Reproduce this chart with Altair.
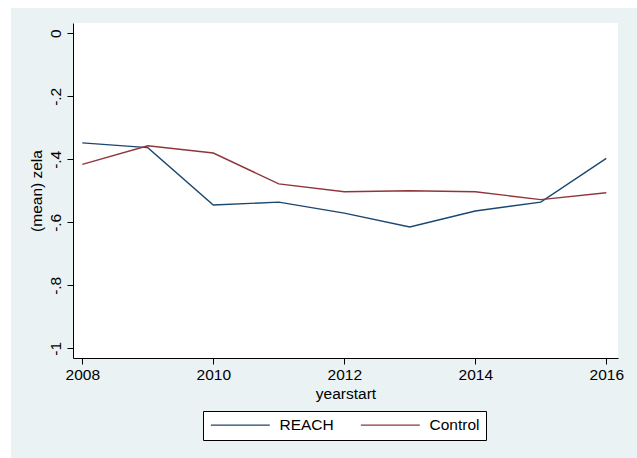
import altair as alt
import pandas as pd

# Mean zela by start year, REACH vs. control schools
years = [2008, 2009, 2010, 2011, 2012, 2013, 2014, 2015, 2016]
reach = [-0.348, -0.363, -0.545, -0.536, -0.571, -0.615, -0.564, -0.536, -0.397]
control = [-0.416, -0.357, -0.380, -0.478, -0.503, -0.500, -0.503, -0.528, -0.506]
groups = ["REACH", "Control"]
colors = ["#1a476f", "#90353b"]

y_ticks = [0, -0.2, -0.4, -0.6, -0.8, -1]
x_ticks = [2008, 2010, 2012, 2014, 2016]

df = pd.DataFrame(
    {"yearstart": years * 2,
     "zela": reach + control,
     "group": ["REACH"] * len(years) + ["Control"] * len(years)}
)

FONT = "Liberation Sans"
FS = 15.5
W, H = 545, 335

# white outer margin strips (left and top) around the shaded graph region
left_strip = alt.Chart(pd.DataFrame({"k": [0]})).mark_rect(color="white").encode(
    x=alt.value(-73), x2=alt.value(-62), y=alt.value(-23), y2=alt.value(H + 100)
)
top_strip = alt.Chart(pd.DataFrame({"k": [0]})).mark_rect(color="white").encode(
    x=alt.value(-73), x2=alt.value(W + 19), y=alt.value(-23), y2=alt.value(-15)
)

# legend key: a long horizontal stroke (unit path scaled by sqrt(size)/2)
KEY_PATH = "M-1,0H9"
KEY_SIZE = 139

lines = alt.Chart(df).mark_line(strokeWidth=1.4).encode(
    x=alt.X(
        "yearstart:Q",
        scale=alt.Scale(domain=[2007.858, 2016.179], nice=False, zero=False),
        axis=alt.Axis(values=x_ticks, format="d", title="yearstart",
                      grid=False, tickSize=6, labelPadding=3,
                      titlePadding=4),
    ),
    y=alt.Y(
        "zela:Q",
        scale=alt.Scale(domain=[-1.0308, 0.0327], nice=False, zero=False),
        axis=alt.Axis(
            values=y_ticks, title="(mean) zela", grid=False, tickSize=6,
            labelAngle=-90, labelAlign="center", labelBaseline="bottom",
            labelPadding=4, titlePadding=4,
            labelExpr="datum.value == 0 ? '0' : (datum.value <= -0.99 ? '-1' : '-.' + round(-datum.value * 10))",
        ),
    ),
    color=alt.Color(
        "group:N",
        scale=alt.Scale(domain=groups, range=colors),
        sort=groups,
        legend=alt.Legend(
            title=None, orient="none", legendX=130, legendY=388,
            direction="horizontal", symbolType=KEY_PATH, symbolSize=KEY_SIZE,
            symbolStrokeWidth=1.4, labelOffset=55, columnPadding=24,
            padding=6, strokeColor="black", fillColor="white",
        ),
    ),
    detail="group:N",
)

chart = (
    alt.layer(left_strip, top_strip, lines)
    .properties(
        width=W, height=H,
        autosize=alt.AutoSizeParams(type="none"),
        padding={"left": 73, "top": 23, "right": 19, "bottom": 100},
        background="#EAF2F3",
    )
    .configure_view(fill="white", stroke=None)
    .configure_axis(
        labelFont=FONT, titleFont=FONT, labelFontSize=FS, titleFontSize=FS,
        labelColor="black", titleColor="black", titleFontWeight="normal",
        domainColor="black", tickColor="black", domainWidth=1, tickWidth=1,
    )
    .configure_legend(labelFont=FONT, labelFontSize=FS, labelColor="black")
)

chart.save("out.html", embed_options={"renderer": "svg", "actions": False})
